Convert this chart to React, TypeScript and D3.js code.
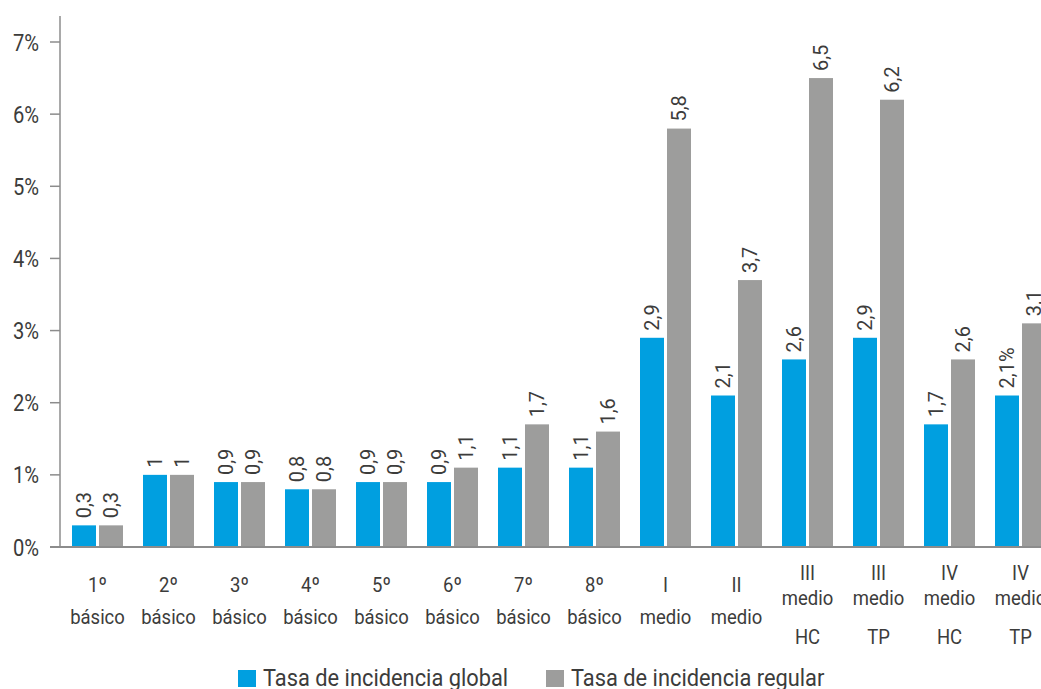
import React from "react";
import * as d3 from "d3";

// Grades / levels on the x axis (multi-line labels)
const categories: string[][] = [
  ["1º", "básico"],
  ["2º", "básico"],
  ["3º", "básico"],
  ["4º", "básico"],
  ["5º", "básico"],
  ["6º", "básico"],
  ["7º", "básico"],
  ["8º", "básico"],
  ["I", "medio"],
  ["II", "medio"],
  ["III", "medio", "HC"],
  ["III", "medio", "TP"],
  ["IV", "medio", "HC"],
  ["IV", "medio", "TP"],
];

// Incidence rates in percent
const globalRate = [0.3, 1, 0.9, 0.8, 0.9, 0.9, 1.1, 1.1, 2.9, 2.1, 2.6, 2.9, 1.7, 2.1];
const regularRate = [0.3, 1, 0.9, 0.8, 0.9, 1.1, 1.7, 1.6, 5.8, 3.7, 6.5, 6.2, 2.6, 3.1];
const globalSuffix = ["", "", "", "", "", "", "", "", "", "", "", "", "", "%"];

const yTicks = [0, 1, 2, 3, 4, 5, 6, 7];

const seriesNames = ["Tasa de incidencia global", "Tasa de incidencia regular"];
const seriesColors = ["#009fe0", "#9d9d9c"];

const W = 1041;
const H = 689;
const FONT = "Roboto, 'Noto Sans', sans-serif";
const TEXT = "#3c3c3b";
const AXIS = "#8c8c8c";
const SQUEEZE = 0.88;

const fmt = (v: number) => (Number.isInteger(v) ? String(v) : d3.format(".1f")(v).replace(".", ","));

// Text drawn with a horizontally condensed Roboto
function Txt(props: {
  x: number;
  y: number;
  size: number;
  anchor?: "start" | "middle" | "end";
  rotate?: number;
  sx?: number;
  children: React.ReactNode;
}) {
  const { x, y, size, anchor = "start", rotate = 0, sx = SQUEEZE, children } = props;
  return (
    <text
      transform={`translate(${x},${y}) rotate(${rotate}) scale(${sx},1)`}
      fontSize={size}
      textAnchor={anchor}
      fill={TEXT}
    >
      {children}
    </text>
  );
}

export default function App() {
  const keys = categories.map((c) => c.join(" "));
  const x = d3.scaleBand<string>().domain(keys).range([62, 62 + 14 * 71]);
  const xSub = d3.scaleBand<string>().domain(["g", "r"]).range([0, 51]).paddingInner(3 / 27);
  const y = d3.scaleLinear().domain([0, 7]).range([547, 42]);

  const groupX = (i: number) => (x(keys[i]) as number) + x.bandwidth() / 2 - 25.5;

  const series = [
    { key: "g", values: globalRate, color: seriesColors[0], suffix: globalSuffix },
    { key: "r", values: regularRate, color: seriesColors[1], suffix: keys.map(() => "") },
  ];

  return (
    <svg
      width={W}
      height={H}
      style={{ position: "absolute", left: 0, top: 0, background: "#fff" }}
      fontFamily={FONT}
    >
      {/* bars */}
      {series.map((s) =>
        s.values.map((v, i) => {
          const bx = groupX(i) + (xSub(s.key) as number);
          return (
            <rect
              key={s.key + i}
              x={bx}
              y={y(v)}
              width={xSub.bandwidth()}
              height={y(0) - y(v)}
              fill={s.color}
            />
          );
        })
      )}

      {/* value labels, rotated */}
      {series.map((s) =>
        s.values.map((v, i) => {
          const cx = groupX(i) + (xSub(s.key) as number) + xSub.bandwidth() / 2;
          return (
            <Txt key={"l" + s.key + i} x={cx + 7} y={y(v) - 7} size={20} rotate={-90} sx={1}>
              {fmt(v) + s.suffix[i]}
            </Txt>
          );
        })
      )}

      {/* y axis */}
      <line x1={60} x2={60} y1={16} y2={547} stroke={AXIS} strokeWidth={1.5} />
      {yTicks.map((t) => (
        <g key={t}>
          <line x1={50} x2={60} y1={y(t)} y2={y(t)} stroke={AXIS} strokeWidth={1.5} />
          <Txt x={39} y={y(t) + 8.5} size={24} anchor="end" sx={0.84}>
            {t + "%"}
          </Txt>
        </g>
      ))}
      <line x1={50} x2={W} y1={y(0)} y2={y(0)} stroke={AXIS} strokeWidth={1.8} />

      {/* category labels */}
      {categories.map((lines, i) => {
        const cx = (x(keys[i]) as number) + x.bandwidth() / 2;
        const ys = lines.length === 2 ? [592, 624] : [580, 605, 644];
        return (
          <g key={"c" + i}>
            {lines.map((ln, j) => (
              <Txt key={j} x={cx} y={ys[j]} size={21} anchor="middle">
                {ln}
              </Txt>
            ))}
          </g>
        );
      })}

      {/* legend */}
      {seriesNames.map((name, i) => {
        const lx = i === 0 ? 238 : 546;
        return (
          <g key={name}>
            <rect x={lx} y={670} width={18} height={17} fill={seriesColors[i]} />
            <Txt x={lx + 25} y={686} size={23} sx={0.95}>
              {name}
            </Txt>
          </g>
        );
      })}
    </svg>
  );
}
